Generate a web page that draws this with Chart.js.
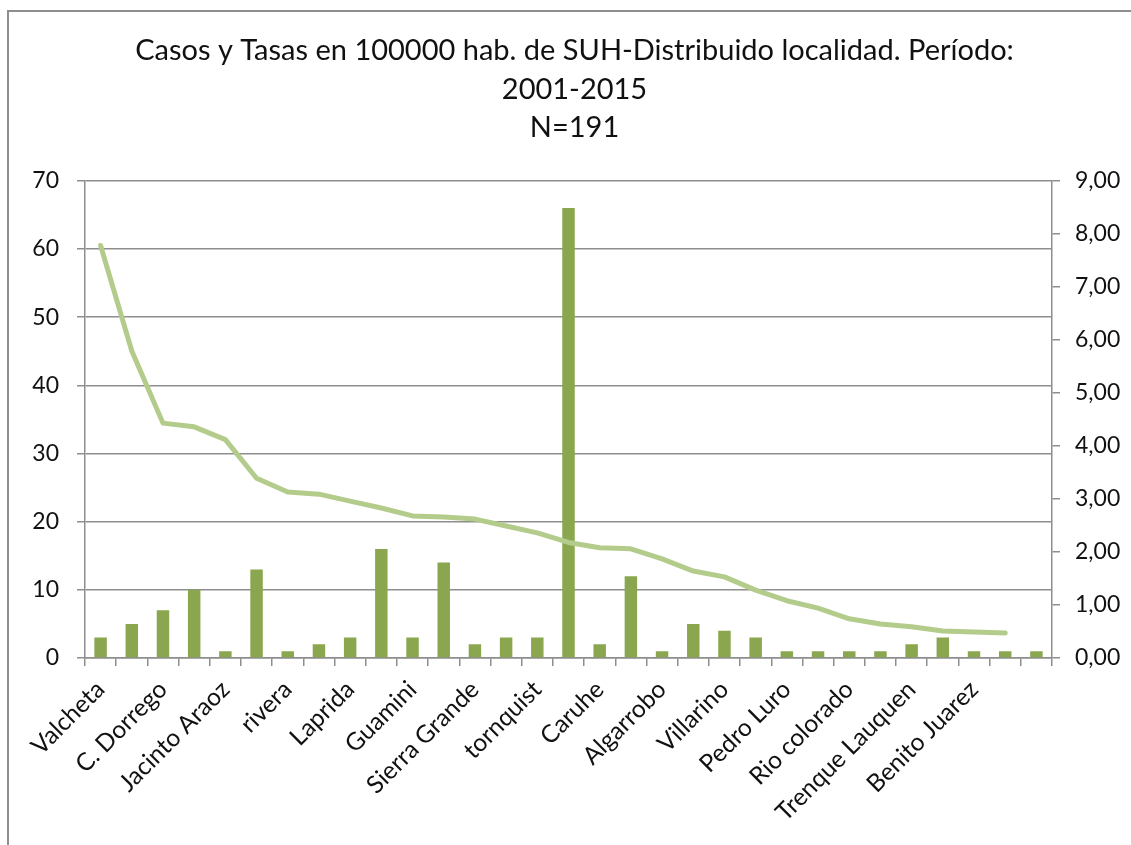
<!DOCTYPE html>
<html>
<head>
<meta charset="utf-8">
<title>SUH por localidad</title>
<script src="https://cdn.jsdelivr.net/npm/chart.js@4.4.0/dist/chart.umd.min.js"></script>
<style>
  html, body { margin: 0; padding: 0; background: #fff; overflow: hidden; }
  #marco { position: absolute; left: 7px; top: 10px; width: 1300px; height: 1000px; border: 2px solid #8e8e8e; box-sizing: border-box; }
  #wrap { position: absolute; left: 0; top: 0; width: 1131px; height: 845px; }
</style>
</head>
<body>
<div id="marco"></div>
<div id="wrap"><canvas id="grafico"></canvas></div>
<script>
// Localidades (solo se ven las etiquetas alternas en el original)
const localidades = [
  'Valcheta', '', 'C. Dorrego', '', 'Jacinto Araoz', '', 'rivera', '', 'Laprida', '',
  'Guamini', '', 'Sierra Grande', '', 'tornquist', '', 'Caruhe', '', 'Algarrobo', '',
  'Villarino', '', 'Pedro Luro', '', 'Rio colorado', '', 'Trenque Lauquen', '', 'Benito Juarez', '', ''
];

// Casos (eje izquierdo) - total N=191
const casos = [3, 5, 7, 10, 1, 13, 1, 2, 3, 16, 3, 14, 2, 3, 3, 66, 2, 12, 1, 5, 4, 3, 1, 1, 1, 1, 2, 3, 1, 1, 1];

// Tasa en 100000 hab. (eje derecho)
const tasas = [7.78, 5.79, 4.43, 4.36, 4.12, 3.39, 3.13, 3.09, 2.96, 2.83, 2.68, 2.66, 2.62, 2.49, 2.36, 2.18,
  2.08, 2.06, 1.87, 1.64, 1.53, 1.28, 1.08, 0.94, 0.74, 0.64, 0.59, 0.51, 0.49, 0.47, null];

const ticksIzq = { min: 0, max: 70, paso: 10 };
const ticksDer = { min: 0, max: 9, paso: 1 };

const titulo = ['Casos y Tasas en 100000 hab. de SUH-Distribuido localidad. Período:', '2001-2015', 'N=191'];

const gris = '#8e8e8e';
const texto = '#111111';
const fuente = 'Lato';

new Chart(document.getElementById('grafico').getContext('2d'), {
  type: 'bar',
  data: {
    labels: localidades,
    datasets: [
      {
        type: 'line',
        label: 'Tasa',
        data: tasas,
        yAxisID: 'yDer',
        borderColor: '#b3cc8b',
        borderWidth: 5,
        pointRadius: 0,
        tension: 0,
        borderCapStyle: 'round',
        borderJoinStyle: 'round',
        order: 0
      },
      {
        label: 'Casos',
        data: casos,
        yAxisID: 'yIzq',
        backgroundColor: '#8aa74f',
        categoryPercentage: 1,
        barPercentage: 0.4,
        order: 1
      }
    ]
  },
  options: {
    responsive: true,
    maintainAspectRatio: false,
    animation: false,
    layout: { padding: { left: 18, right: 0, top: 10, bottom: 0 } },
    plugins: {
      legend: { display: false },
      tooltip: { enabled: false },
      title: {
        display: true,
        text: titulo,
        color: texto,
        font: { family: fuente, size: 29, weight: 'normal', lineHeight: 1.32 },
        padding: { top: 22, bottom: 34 }
      }
    },
    scales: {
      x: {
        grid: { offset: true, drawOnChartArea: false, color: gris, lineWidth: 1.5, tickLength: 8 },
        border: { color: gris, width: 1.5 },
        ticks: {
          autoSkip: false, maxRotation: 45, minRotation: 45,
          color: texto, font: { family: fuente, size: 24.5 }, padding: 9
        },
        afterFit: s => { s.height = 187; }
      },
      yIzq: {
        position: 'left',
        min: ticksIzq.min, max: ticksIzq.max,
        grid: { color: gris, lineWidth: 1.5, tickLength: 8 },
        border: { color: gris, width: 1.5 },
        ticks: { stepSize: ticksIzq.paso, color: texto, font: { family: fuente, size: 23 }, padding: 18 },
        afterFit: s => { s.width = 67; }
      },
      yDer: {
        position: 'right',
        min: ticksDer.min, max: ticksDer.max,
        grid: { drawOnChartArea: false, color: gris, lineWidth: 1.5, tickLength: 8 },
        border: { color: gris, width: 1.5 },
        ticks: {
          stepSize: ticksDer.paso, color: texto, font: { family: fuente, size: 23 }, padding: 15,
          callback: v => v.toFixed(2).replace('.', ',')
        },
        afterFit: s => { s.width = 79; }
      }
    }
  }
});
</script>
</body>
</html>
